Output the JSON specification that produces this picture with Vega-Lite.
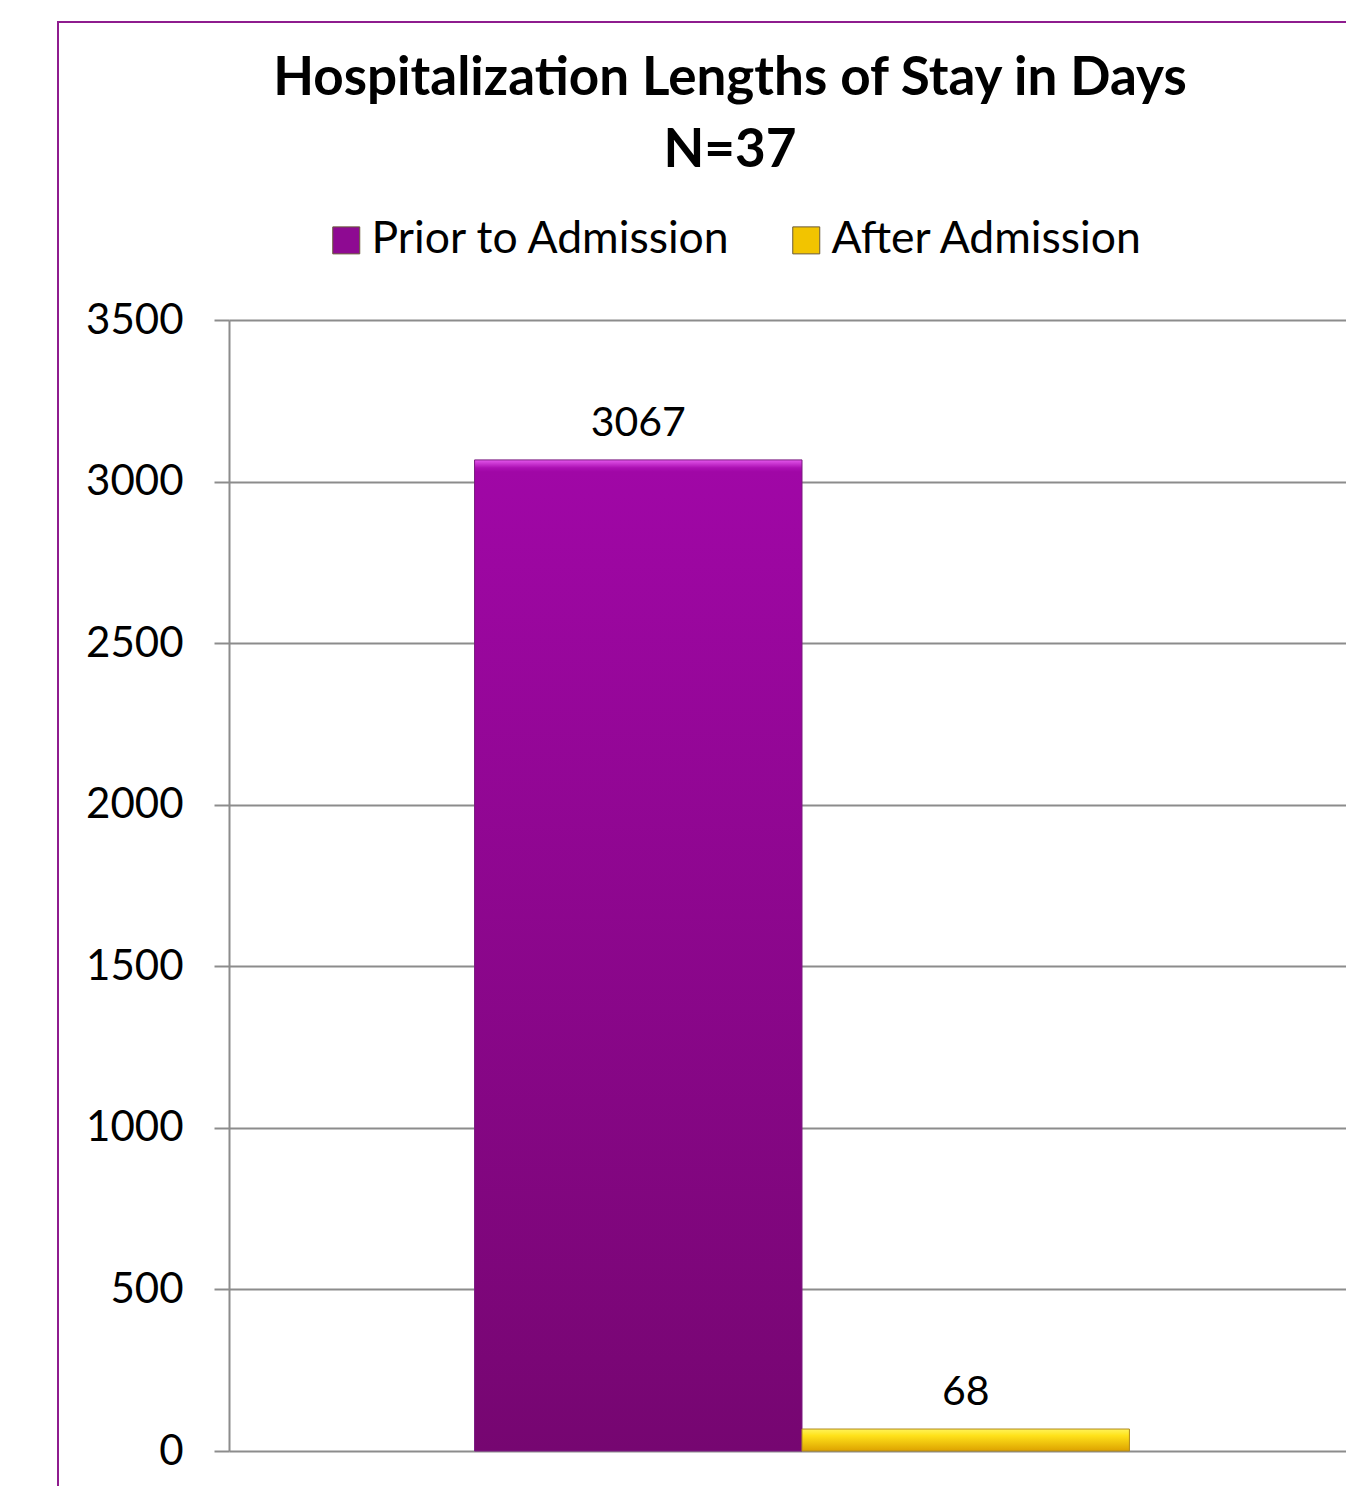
{
  "$schema": "https://vega.github.io/schema/vega-lite/v6.json",
  "width": 1330,
  "height": 1480,
  "padding": {"left": 58, "top": 22, "right": 0, "bottom": 0},
  "background": "white",
  "title": {
    "text": ["Hospitalization Lengths of Stay in Days", "N=37"],
    "font": "Lato",
    "fontSize": 53,
    "fontWeight": "bold",
    "color": "black",
    "lineHeight": 72,
    "anchor": "middle",
    "frame": "group",
    "baseline": "alphabetic",
    "offset": -198,
    "dx": 7
  },
  "data": {
    "values": [
      {"series": "Prior to Admission", "days": 3067},
      {"series": "After Admission", "days": 68}
    ]
  },
  "encoding": {
    "x": {
      "field": "series",
      "type": "nominal",
      "sort": ["Prior to Admission", "After Admission"],
      "axis": null,
      "scale": {"range": [171, 1317], "paddingInner": 0, "paddingOuter": 0.75}
    },
    "y": {
      "field": "days",
      "type": "quantitative",
      "scale": {"domain": [0, 3500], "range": [1429, 298], "nice": false},
      "axis": {
        "title": null,
        "offset": -171,
        "format": "d",
        "values": [0, 500, 1000, 1500, 2000, 2500, 3000, 3500],
        "grid": true,
        "gridColor": "#8c8c8c",
        "gridWidth": 2,
        "domainColor": "#8c8c8c",
        "domainWidth": 2,
        "tickColor": "#8c8c8c",
        "tickWidth": 2,
        "tickSize": 15,
        "labelFont": "Lato",
        "labelFontSize": 42,
        "labelColor": "black",
        "labelPadding": 31
      }
    }
  },
  "layer": [
    {
      "mark": {"type": "bar"},
      "encoding": {
        "color": {
          "field": "series",
          "type": "nominal",
          "sort": ["Prior to Admission", "After Admission"],
          "scale": {
            "domain": ["Prior to Admission", "After Admission"],
            "range": ["#8E0A92", "#F2C400"]
          },
          "legend": {
            "title": null,
            "orient": "none",
            "legendX": 266,
            "legendY": 196,
            "direction": "horizontal",
            "padding": 0,
            "symbolType": "square",
            "symbolSize": 729,
            "symbolStrokeWidth": 1,
            "symbolStrokeColor": "#6a5a3a",
            "symbolOpacity": 1,
            "labelFont": "Lato",
            "labelFontSize": 44.5,
            "labelColor": "black",
            "labelOffset": 3,
            "labelLimit": 500,
            "columnPadding": 52
          }
        }
      }
    },
    {
      "mark": {"type": "bar", "strokeWidth": 1},
      "encoding": {
        "fill": {
          "condition": {
            "test": "datum.series === 'Prior to Admission'",
            "value": {
              "gradient": "linear",
              "x1": 0, "y1": 0, "x2": 0, "y2": 1,
              "stops": [
                {"offset": 0, "color": "#E457EC"},
                {"offset": 0.008, "color": "#AC10B3"},
                {"offset": 0.012, "color": "#A007A6"},
                {"offset": 1, "color": "#760671"}
              ]
            }
          },
          "value": {
            "gradient": "linear",
            "x1": 0, "y1": 0, "x2": 0, "y2": 1,
            "stops": [
              {"offset": 0, "color": "#FFF45A"},
              {"offset": 0.3, "color": "#FFE21A"},
              {"offset": 1, "color": "#DDA200"}
            ]
          }
        },
        "stroke": {
          "condition": {"test": "datum.series === 'Prior to Admission'", "value": "#7A1A80"},
          "value": "#B08A20"
        }
      }
    },
    {
      "mark": {
        "type": "text",
        "font": "Lato",
        "fontSize": 41,
        "color": "black",
        "baseline": "alphabetic",
        "dy": -24
      },
      "encoding": {
        "text": {"field": "days", "type": "quantitative"}
      }
    }
  ],
  "config": {
    "view": {"stroke": "#8E1C8E", "strokeWidth": 2}
  }
}
